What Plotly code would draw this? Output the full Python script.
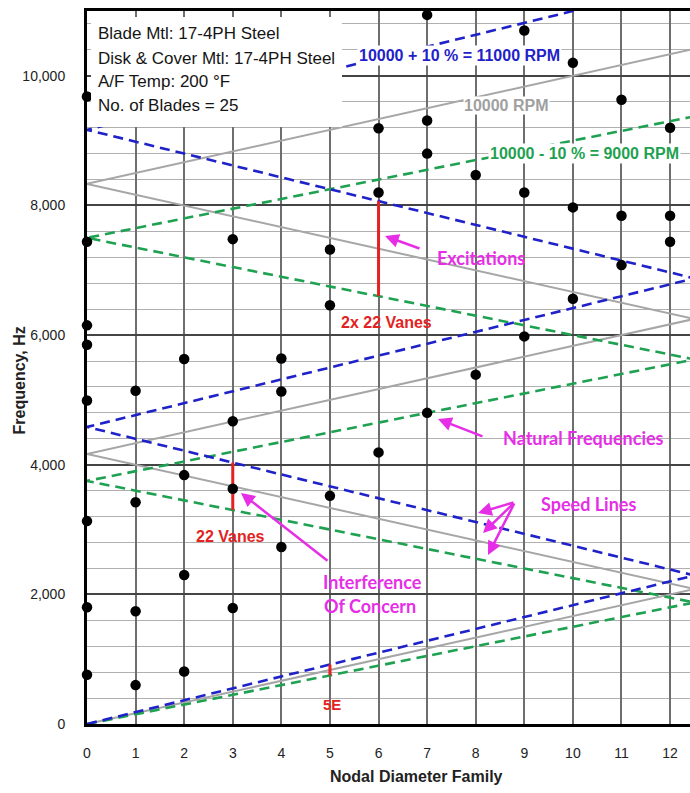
import plotly.graph_objects as go

# ---------------- data ----------------
# Natural frequencies (Hz) by nodal diameter family
nat_nd = ([0] * 8 + [1] * 4 + [2] * 4 + [3] * 4 + [4] * 3 + [5] * 3 + [6] * 3 +
          [7] * 4 + [8] * 2 + [9] * 3 + [10] * 3 + [11] * 3 + [12] * 3)
nat_hz = [9680, 7440, 6150, 5850, 4990, 3130, 1800, 760,
          5140, 3420, 1740, 600,
          5630, 3840, 2300, 810,
          7480, 4670, 3630, 1790,
          5640, 5130, 2730,
          7320, 6460, 3520,
          9190, 8200, 4190,
          10940, 9310, 8800, 4800,
          8470, 5390,
          10700, 8200, 5980,
          10200, 7970, 6560,
          9630, 7840, 7080,
          9200, 7840, 7440]

# Speed-line zigzag vertices (25 blades -> fold at ND 12.5)
zig_nd = [0, 12.5, 0, 12.5, 0, 12.5]
speed_9000_hz = [0, 1875, 3750, 5625, 7500, 9375]
speed_10000_hz = [0, 2083, 4167, 6250, 8333, 10417]
speed_11000_hz = [0, 2292, 4583, 6875, 9167, 11458]

# Excitations (red bars): ND, low freq (9000 RPM), high freq (11000 RPM)
exc_nd = [6, 3, 5]
exc_lo = [6600, 3300, 750]
exc_hi = [8067, 4033, 917]
exc_labels = ["2x 22 Vanes", "22 Vanes", "5E"]

x_ticks = list(range(13))
y_ticks = [0, 2000, 4000, 6000, 8000, 10000]
y_tick_text = ["0", "2,000", "4,000", "6,000", "8,000", "10,000"]

info_lines = ["Blade Mtl: 17-4PH Steel", "Disk & Cover Mtl: 17-4PH Steel",
              "A/F Temp: 200 \u00b0F", "No. of Blades = 25"]

# ---------------- layout helpers ----------------
W, H = 690, 793
L, R, T, B = 87, 0, 11, 69
XMAX, YMAX = 12.41, 11000


def px_x(px):
    return (px - L) / (W - L - R) * XMAX


def px_y(py):
    return (H - B - py) / (H - B - T) * YMAX


BLUE = "#1f22c8"
GREEN = "#1fa152"
GRAY = "#a6a6a6"
RED = "#e32222"
MAG = "#e62ee6"
FONT = "Liberation Sans, Arial"

fig = go.Figure()

fig.add_trace(go.Scatter(x=zig_nd, y=speed_10000_hz, mode="lines",
                         line=dict(color=GRAY, width=2), hoverinfo="skip"))
fig.add_trace(go.Scatter(x=zig_nd, y=speed_9000_hz, mode="lines",
                         line=dict(color=GREEN, width=2.6, dash="10px,6px"), hoverinfo="skip"))
fig.add_trace(go.Scatter(x=zig_nd, y=speed_11000_hz, mode="lines",
                         line=dict(color=BLUE, width=2.6, dash="10px,6px"), hoverinfo="skip"))

for nd, lo, hi in zip(exc_nd, exc_lo, exc_hi):
    fig.add_trace(go.Scatter(x=[nd, nd], y=[lo, hi], mode="lines",
                             line=dict(color=RED, width=3), hoverinfo="skip"))

# white info box (covers grid & lines)
fig.add_shape(type="rect", xref="x", yref="y", x0=px_x(91), x1=px_x(342),
              y0=px_y(127), y1=px_y(17), fillcolor="white", line=dict(width=0),
              layer="above")

fig.add_trace(go.Scatter(x=nat_nd, y=nat_hz, mode="markers",
                         marker=dict(color="black", size=10.5), cliponaxis=False,
                         hoverinfo="skip"))

ann = []
# info text
for t, py in zip(info_lines, [33, 58, 81, 105]):
    ann.append(dict(x=px_x(96), y=px_y(py), xref="x", yref="y", text=t,
                    showarrow=False, xanchor="left", yanchor="middle",
                    font=dict(family=FONT, size=17, color="#151515")))

# speed labels
ann.append(dict(x=px_x(459), y=px_y(55), text="<b>10000 + 10 % = 11000 RPM</b>",
                showarrow=False, bgcolor="white", borderpad=1,
                font=dict(family=FONT, size=16, color=BLUE)))
ann.append(dict(x=px_x(506), y=px_y(105), text="<b>10000 RPM</b>",
                showarrow=False, bgcolor="white", borderpad=0,
                font=dict(family=FONT, size=16, color="#a0a0a0")))
ann.append(dict(x=px_x(584), y=px_y(153), text="<b>10000 - 10 % = 9000 RPM</b>",
                showarrow=False, bgcolor="white", borderpad=1,
                font=dict(family=FONT, size=16, color=GREEN)))

# red labels
for t, (cx, cy, fs) in zip(exc_labels, [(386, 322, 16), (230, 536, 16), (332, 704, 15)]):
    ann.append(dict(x=px_x(cx), y=px_y(cy), text="<b>" + t + "</b>", showarrow=False,
                    font=dict(family=FONT, size=fs, color=RED)))

# magenta labels
mag_font = dict(family="Lato, Open Sans", size=18, color=MAG)
for t, cx, cy in [("Excitations", 481, 258), ("Natural Frequencies", 583, 438),
                  ("Speed Lines", 588, 504), ("Interference", 372, 582),
                  ("Of Concern", 370, 606)]:
    ann.append(dict(x=px_x(cx), y=px_y(cy), text="<b>" + t + "</b>", showarrow=False,
                    font=mag_font))

# magenta arrows
for (tx, ty), (hx, hy) in [((421, 249), (385, 236)), ((484, 437), (438, 419)),
                           ((515, 502), (478, 513)), ((515, 502), (483, 533)),
                           ((515, 502), (488, 555)), ((329, 562), (241, 493))]:
    ann.append(dict(x=px_x(hx), y=px_y(hy), ax=px_x(tx), ay=px_y(ty),
                    xref="x", yref="y", axref="x", ayref="y", text="",
                    showarrow=True, arrowhead=2, arrowsize=1.1, arrowwidth=2.5,
                    arrowcolor=MAG))

# axis titles
ann.append(dict(x=px_x(416), y=-0.074, xref="x", yref="paper",
                text="<b>Nodal Diameter Family</b>", showarrow=False, yanchor="middle",
                font=dict(family=FONT, size=16, color="#222")))
ann.append(dict(x=-0.112, y=px_y(380), xref="paper", yref="y", textangle=-90,
                text="<b>Frequency, Hz</b>", showarrow=False, xanchor="center",
                font=dict(family=FONT, size=16, color="#222")))

fig.update_layout(
    width=W, height=H, margin=dict(l=L, r=R, t=T, b=B, autoexpand=False),
    paper_bgcolor="white", plot_bgcolor="white", showlegend=False,
    annotations=ann,
    xaxis=dict(range=[0, XMAX], tickmode="array", tickvals=x_ticks,
               ticktext=[str(v) for v in x_ticks], automargin=False,
               showgrid=True, gridcolor="#6e6e6e", gridwidth=1.5, zeroline=False,
               showline=True, linecolor="black", linewidth=3, mirror=True,
               ticks="", ticklabelstandoff=14,
               tickfont=dict(family=FONT, size=14, color="#222"),
               tickprefix="<b>", ticksuffix="</b>"),
    yaxis=dict(range=[0, YMAX], tickmode="array", tickvals=y_ticks, ticktext=y_tick_text,
               automargin=False,
               showgrid=True, gridcolor="#444", gridwidth=1.5, zeroline=False,
               minor=dict(tickmode="linear", tick0=0, dtick=400, showgrid=True,
                          gridcolor="#b0b0b0", gridwidth=1.2, ticks=""),
               showline=True, linecolor="black", linewidth=3,
               ticks="", ticklabelstandoff=16,
               tickfont=dict(family=FONT, size=14, color="#222"),
               tickprefix="<b>", ticksuffix="</b>"),
)

fig.write_html("out.html", config={"displayModeBar": False},
               post_script="document.body.style.margin='0px';")
